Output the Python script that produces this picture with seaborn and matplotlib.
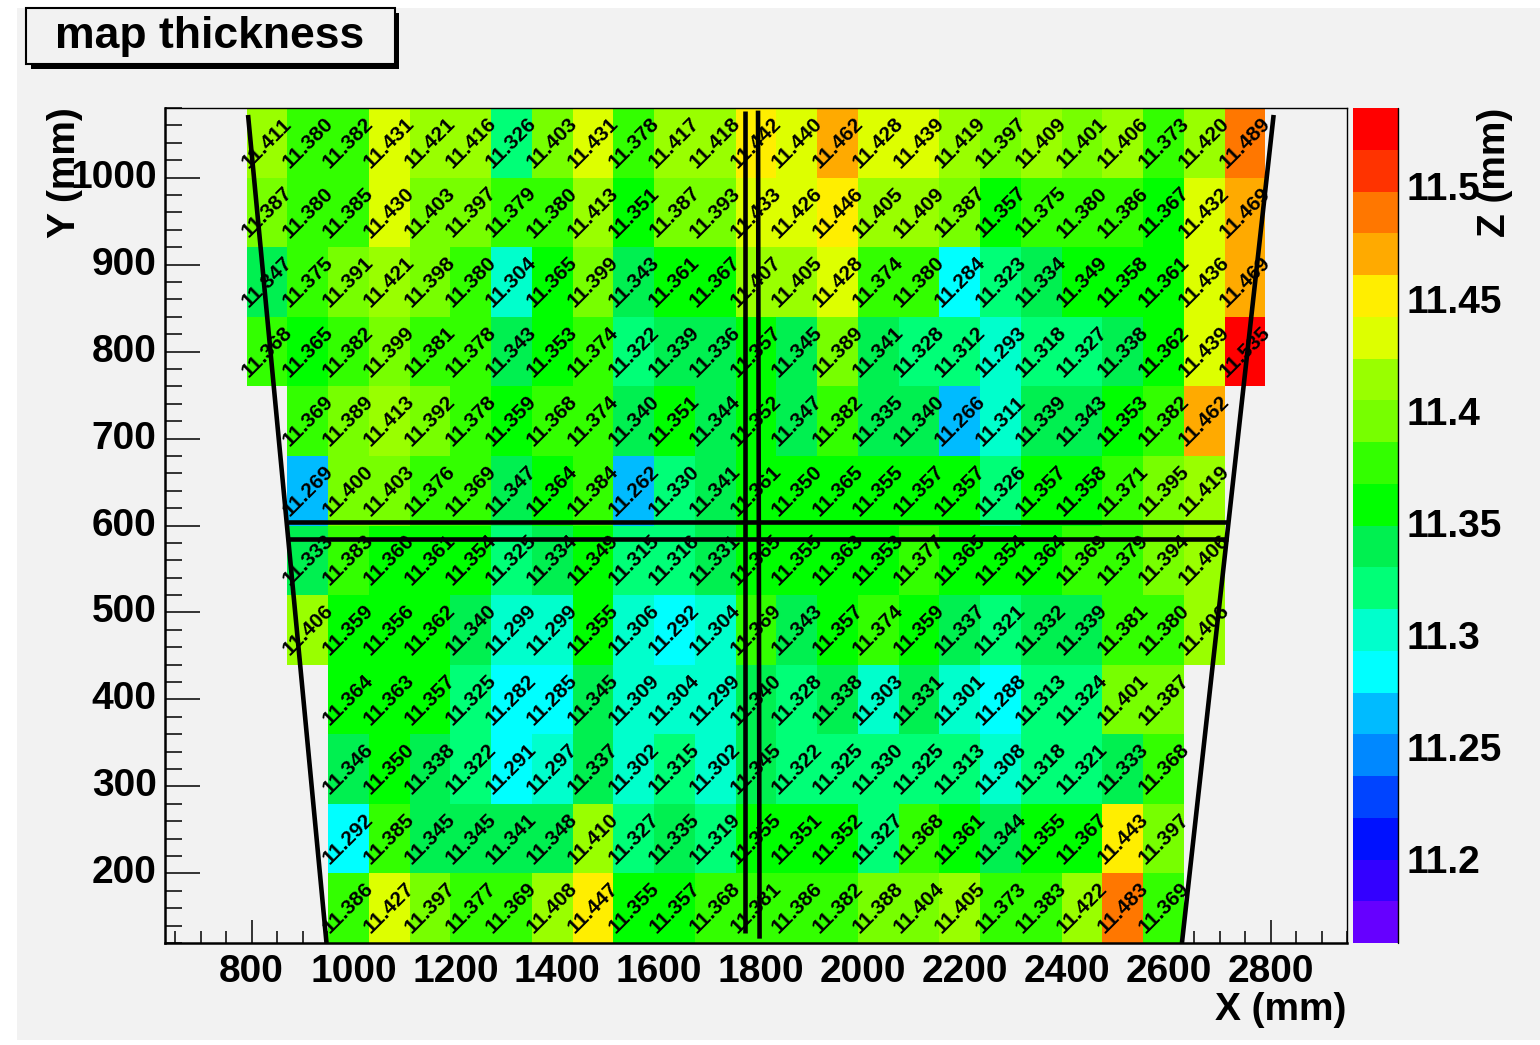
import numpy as np
import pandas as pd
import matplotlib
matplotlib.use("Agg")
import matplotlib.pyplot as plt
import seaborn as sns
from matplotlib.colors import ListedColormap
from matplotlib.patches import Rectangle

# ---------------- data ----------------
x_lo, x_hi, bin_w = 630, 2950, 80
y_lo, y_hi = 120, 1080

row_y_low = [1000, 920, 840, 760, 680, 600, 520, 440, 360, 280, 200, 120]
row_x_first = [790, 790, 790, 790, 870, 870, 870, 870, 950, 950, 950, 950]

row_1000 = [11.411, 11.380, 11.382, 11.431, 11.421, 11.416, 11.326, 11.403, 11.431, 11.378, 11.417, 11.418, 11.442,
            11.440, 11.462, 11.428, 11.439, 11.419, 11.397, 11.409, 11.401, 11.406, 11.373, 11.420, 11.489]
row_920 = [11.387, 11.380, 11.385, 11.430, 11.403, 11.397, 11.379, 11.380, 11.413, 11.351, 11.387, 11.393, 11.433,
           11.426, 11.446, 11.405, 11.409, 11.387, 11.357, 11.375, 11.380, 11.386, 11.367, 11.432, 11.469]
row_840 = [11.347, 11.375, 11.391, 11.421, 11.398, 11.380, 11.304, 11.365, 11.399, 11.343, 11.361, 11.367, 11.407,
           11.405, 11.428, 11.374, 11.380, 11.284, 11.323, 11.334, 11.349, 11.358, 11.361, 11.436, 11.469]
row_760 = [11.368, 11.365, 11.382, 11.399, 11.381, 11.378, 11.343, 11.353, 11.374, 11.322, 11.339, 11.336, 11.357,
           11.345, 11.389, 11.341, 11.328, 11.312, 11.293, 11.318, 11.327, 11.338, 11.362, 11.439, 11.535]
row_680 = [11.369, 11.389, 11.413, 11.392, 11.378, 11.359, 11.368, 11.374, 11.340, 11.351, 11.344, 11.352, 11.347,
           11.382, 11.335, 11.340, 11.266, 11.311, 11.339, 11.343, 11.353, 11.382, 11.462]
row_600 = [11.269, 11.400, 11.403, 11.376, 11.369, 11.347, 11.364, 11.384, 11.262, 11.330, 11.341, 11.361, 11.350,
           11.365, 11.355, 11.357, 11.357, 11.326, 11.357, 11.358, 11.371, 11.395, 11.419]
row_520 = [11.333, 11.383, 11.360, 11.361, 11.354, 11.325, 11.334, 11.349, 11.315, 11.316, 11.331, 11.365, 11.355,
           11.363, 11.353, 11.377, 11.365, 11.354, 11.364, 11.369, 11.379, 11.394, 11.406]
row_440 = [11.406, 11.359, 11.356, 11.362, 11.340, 11.299, 11.299, 11.355, 11.306, 11.292, 11.304, 11.369, 11.343,
           11.357, 11.374, 11.359, 11.337, 11.321, 11.332, 11.339, 11.381, 11.380, 11.406]
row_360 = [11.364, 11.363, 11.357, 11.325, 11.282, 11.285, 11.345, 11.309, 11.304, 11.299, 11.340, 11.328, 11.338,
           11.303, 11.331, 11.301, 11.288, 11.313, 11.324, 11.401, 11.387]
row_280 = [11.346, 11.350, 11.338, 11.322, 11.291, 11.297, 11.337, 11.302, 11.315, 11.302, 11.345, 11.322, 11.325,
           11.330, 11.325, 11.313, 11.308, 11.318, 11.321, 11.333, 11.368]
row_200 = [11.292, 11.385, 11.345, 11.345, 11.341, 11.348, 11.410, 11.327, 11.335, 11.319, 11.355, 11.351, 11.352,
           11.327, 11.368, 11.361, 11.344, 11.355, 11.367, 11.443, 11.397]
row_120 = [11.386, 11.427, 11.397, 11.377, 11.369, 11.408, 11.447, 11.355, 11.357, 11.368, 11.381, 11.386, 11.382,
           11.388, 11.404, 11.405, 11.373, 11.383, 11.422, 11.483, 11.369]
rows = [row_1000, row_920, row_840, row_760, row_680, row_600, row_520, row_440,
        row_360, row_280, row_200, row_120]

z_min, z_max = 11.1625, 11.535
palette = ["#6600FF", "#3300FF", "#0011FF", "#0044FF", "#0088FF", "#00BBFF", "#00FFFF",
           "#00FFCC", "#00FF77", "#00F050", "#00FF00", "#33FF00", "#77FF00", "#99FF00",
           "#DDFF00", "#FFEE00", "#FFAA00", "#FF7700", "#FF3300", "#FF0000"]

x_ticks = [800, 1000, 1200, 1400, 1600, 1800, 2000, 2200, 2400, 2600, 2800]
y_ticks = [200, 300, 400, 500, 600, 700, 800, 900, 1000]
z_ticks = [11.2, 11.25, 11.3, 11.35, 11.4, 11.45, 11.5]
z_tick_labels = ["11.2", "11.25", "11.3", "11.35", "11.4", "11.45", "11.5"]

# overlay outline (detector frame) in mm
left_edge_x, left_edge_y = [793, 947], [1072, 120]
right_edge_x, right_edge_y = [2806, 2626], [1072, 120]
vline1_x, vline1_y = [1768, 1768], [1077, 131]
vline2_x, vline2_y = [1794, 1797], [1077, 125]
hline1_x, hline1_y = [872, 2714], [604, 604]
hline2_x, hline2_y = [874, 2717], [584, 584]

# ---------------- grid ----------------
n_x = (x_hi - x_lo) // bin_w
n_y = (y_hi - y_lo) // bin_w
grid = np.full((n_y, n_x), np.nan)
for r, (xf, vals) in enumerate(zip(row_x_first, rows)):
    c0 = (xf - x_lo) // bin_w
    grid[r, c0:c0 + len(vals)] = vals
x_centers = [x_lo + bin_w * (k + 0.5) for k in range(n_x)]
y_centers = [y + bin_w / 2 for y in row_y_low]
df = pd.DataFrame(grid, index=y_centers, columns=x_centers)


def xi(x):
    return (np.asarray(x, dtype=float) - x_lo) / bin_w


def yi(y):
    return (y_hi - np.asarray(y, dtype=float)) / bin_w


# ---------------- figure ----------------
sns.set_style("white")
plt.rcParams["font.family"] = ["Liberation Sans", "DejaVu Sans"]
plt.rcParams["font.weight"] = "bold"
for key in ["text.color", "axes.labelcolor", "xtick.color", "ytick.color", "axes.edgecolor"]:
    plt.rcParams[key] = "black"

W, H = 1540, 1045
fig = plt.figure(figsize=(W / 100, H / 100), dpi=100)
fig.patch.set_facecolor("white")
fig.add_artist(Rectangle((17 / W, 5 / H), (W - 17) / W, (1040 - 8) / H, transform=fig.transFigure,
                         facecolor="#F2F2F2", edgecolor="none", zorder=-10))

ax = fig.add_axes([165 / W, 1 - 943 / H, (1347 - 165) / W, (943 - 108) / H])
cax = fig.add_axes([1353 / W, 1 - 943 / H, 45 / W, 835 / H])

cmap = ListedColormap(palette)
sns.heatmap(df, ax=ax, cbar_ax=cax, cmap=cmap, vmin=z_min, vmax=z_max,
            annot=True, fmt=".3f",
            annot_kws=dict(rotation=45, fontsize=15, fontweight="bold", color="black"),
            xticklabels=False, yticklabels=False)
ax.set_facecolor("#F2F2F2")
ax.set_xlim(0, n_x)
ax.set_ylim(n_y, 0)
ax.set_xlabel("")
ax.set_ylabel("")

for sp in ax.spines.values():
    sp.set_visible(True)
    sp.set_color("black")
    sp.set_linewidth(1.0)
ax.spines["bottom"].set_linewidth(1.8)
ax.spines["left"].set_linewidth(1.8)

# outline lines
for lx, ly in [(left_edge_x, left_edge_y), (right_edge_x, right_edge_y),
               (vline1_x, vline1_y), (vline2_x, vline2_y),
               (hline1_x, hline1_y), (hline2_x, hline2_y)]:
    ax.plot(xi(lx), yi(ly), color="black", lw=3.3, solid_capstyle="butt", zorder=5)

# ticks
ax.set_xticks(xi(x_ticks), [str(v) for v in x_ticks], rotation=0)
ax.set_yticks(yi(y_ticks), [str(v) for v in y_ticks], rotation=0, va="center")
x_minor = [v for v in range(650, 2951, 50) if v not in x_ticks]
y_minor = [v for v in range(120, 1081, 20) if v not in y_ticks]
ax.set_xticks(xi(x_minor), minor=True)
ax.set_yticks(yi(y_minor), minor=True)
ax.tick_params(axis="x", which="major", direction="in", length=16.5, width=1.1, colors="black",
               labelsize=28, pad=8, bottom=True, top=False)
ax.tick_params(axis="x", which="minor", direction="in", length=8.5, width=1.1, colors="black",
               bottom=True, top=False)
ax.tick_params(axis="y", which="major", direction="in", length=25, width=1.1, colors="black",
               labelsize=28, pad=6, left=True, right=False)
ax.tick_params(axis="y", which="minor", direction="in", length=12, width=1.1, colors="black",
               left=True, right=False)
for t in ax.get_xticklabels() + ax.get_yticklabels():
    t.set_fontweight("bold")

# colorbar
cbar = ax.collections[0].colorbar
cbar.outline.set_linewidth(0)
cbar.set_ticks(z_ticks)
cbar.set_ticklabels(z_tick_labels)
cax.tick_params(axis="y", direction="in", length=26, width=1.1, labelsize=28, pad=6,
                right=True, left=False, colors="black")
for t in cax.get_yticklabels():
    t.set_fontweight("bold")
cax.plot([1, 1], [0, 1], transform=cax.transAxes, color="black", lw=1.0, clip_on=False)

# axis titles
fig.text(65 / W, 1 - 107 / H, "Y (mm)", rotation=90, ha="center", va="top",
         fontsize=28, fontweight="bold", color="black")
fig.text(1346 / W, 1 - 1010 / H, "X (mm)", ha="right", va="center",
         fontsize=28, fontweight="bold", color="black")
fig.text(1495 / W, 1 - 108 / H, "Z (mm)", rotation=90, ha="center", va="top",
         fontsize=28, fontweight="bold", color="black")

# title box with shadow
fig.add_artist(Rectangle((31 / W, 1 - 69 / H), 368 / W, 56 / H, transform=fig.transFigure,
                         facecolor="black", edgecolor="none", zorder=3))
fig.add_artist(Rectangle((26 / W, 1 - 64 / H), 369 / W, 56 / H, transform=fig.transFigure,
                         facecolor="#F2F2F2", edgecolor="black", lw=1.5, zorder=4))
fig.text(210 / W, 1 - 48 / H, "map thickness", ha="center", va="baseline",
         fontsize=32, fontweight="bold", color="black", zorder=5)

fig.savefig("out.png", dpi=100)
